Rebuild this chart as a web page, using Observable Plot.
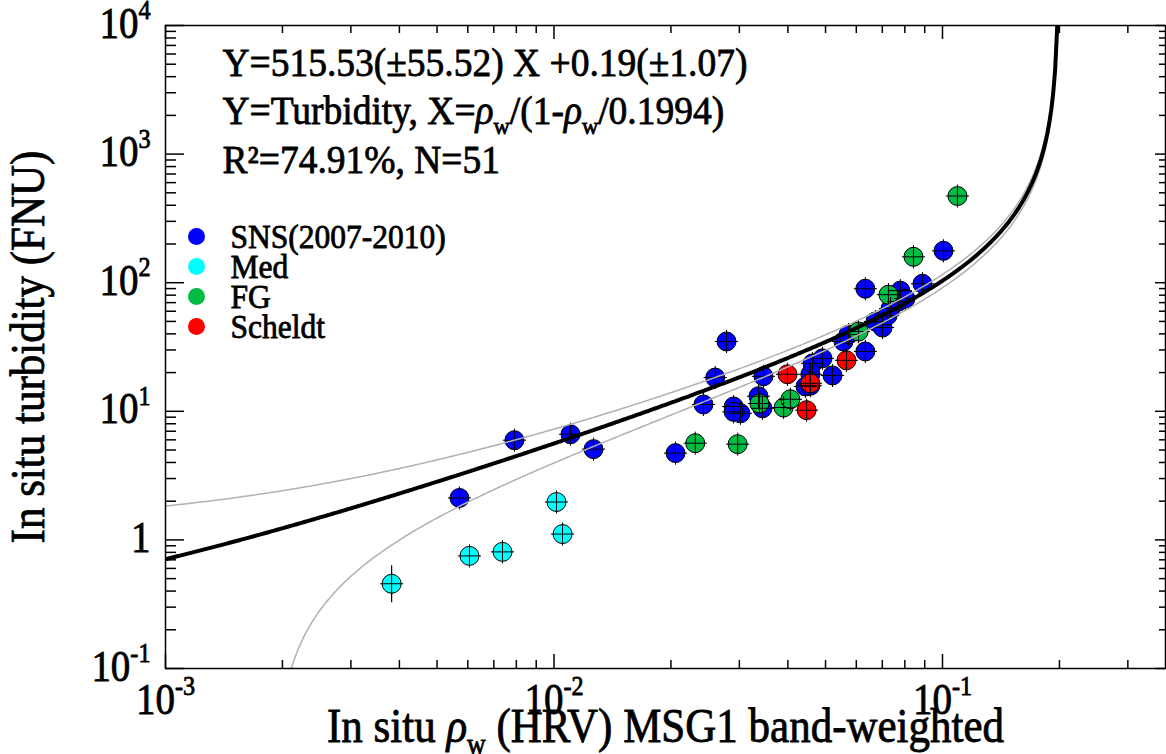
<!DOCTYPE html>
<html><head><meta charset="utf-8">
<script src="https://cdn.jsdelivr.net/npm/d3@7"></script>
<script src="https://cdn.jsdelivr.net/npm/@observablehq/plot@0.6"></script>
<style>
html,body{margin:0;padding:0;background:#fff;}
#chart svg text{stroke:#000;stroke-width:0.75px;stroke-linejoin:round;}
</style></head>
<body><div id="chart"></div>
<script>
// ---------------- data ----------------
const categories = ["SNS(2007-2010)", "Med", "FG", "Scheldt"];
const categoryColors = ["#0000ff", "#00ffff", "#00bb44", "#ff0000"];

const snsX = [5.71e-3, 7.91e-3, 1.103e-2, 1.264e-2, 2.055e-2, 2.425e-2, 2.60e-2, 2.78e-2, 2.90e-2, 3.02e-2, 2.90e-2,
  3.36e-2, 3.44e-2, 3.46e-2, 4.44e-2, 4.57e-2, 4.57e-2, 4.63e-2, 4.91e-2, 5.21e-2, 5.56e-2, 5.73e-2, 6.33e-2,
  6.33e-2, 6.72e-2, 7.01e-2, 7.22e-2, 7.35e-2, 7.70e-2, 7.79e-2, 8.03e-2, 8.88e-2, 0.1006];
const snsY = [2.12, 5.96, 6.63, 5.08, 4.73, 11.3, 18.3, 34.9, 10.9, 9.65, 9.9,
  13.1, 10.55, 18.7, 15.6, 15.8, 19.4, 23.6, 25.8, 19.0, 34.9, 39.5, 29.2,
  89.8, 49.9, 44.8, 55.5, 62.9, 71.3, 86.7, 75.2, 98.2, 177];

const medX = [3.82e-3, 6.06e-3, 7.37e-3, 1.015e-2, 1.052e-2];
const medY = [0.456, 0.751, 0.807, 1.97, 1.11];

const fgX = [2.31e-2, 2.97e-2, 3.38e-2, 3.90e-2, 4.06e-2, 6.08e-2, 7.26e-2, 8.42e-2, 0.1093];
const fgY = [5.65, 5.55, 11.5, 10.7, 12.4, 41.7, 80.7, 159, 472];

const scheldtX = [3.99e-2, 4.47e-2, 4.57e-2, 5.66e-2];
const scheldtY = [19.4, 10.2, 16.5, 24.9];

// large vertical error bar (Med, lowest point)
const errX = [3.82e-3];
const errYLow = [0.325];
const errYHigh = [0.63];

// fit: Y = a X + b, X = rho/(1 - rho/rhoInf)
const fitSlope = [515.53, 55.52];
const fitIntercept = [0.19, 1.07];
const rhoInf = 0.1994;
const fitR2 = "74.91%";
const fitN = 51;

const xDomain = [1e-3, 0.375];
const yDomain = [0.1, 1e4];
const xTickLabels = ["10^{-3}", "10^{-2}", "10^{-1}"];
const xTickValues = [1e-3, 1e-2, 1e-1];
const yTickLabels = ["10^{-1}", "1", "10^{1}", "10^{2}", "10^{3}", "10^{4}"];
const yTickValues = [0.1, 1, 10, 100, 1000, 10000];

const annotation = [
  "Y=515.53(±55.52) X +0.19(±1.07)",
  "Y=Turbidity, X=ρ_{w}/(1-ρ_{w}/0.1994)",
  "R²=" + fitR2 + ", N=" + fitN
];
const xLabel = "In situ ρ_{w} (HRV) MSG1 band-weighted";
const yLabel = "In situ turbidity (FNU)";

// ---------------- build ----------------
const groups = [
  {name: categories[0], xs: snsX, ys: snsY},
  {name: categories[1], xs: medX, ys: medY},
  {name: categories[2], xs: fgX, ys: fgY},
  {name: categories[3], xs: scheldtX, ys: scheldtY}
];
const points = groups.flatMap(g => g.xs.map((x, i) => ({cat: g.name, x, y: g.ys[i]})));
const errBars = errX.map((x, i) => ({x, y1: errYLow[i], y2: errYHigh[i]}));

// fit curves evaluated from the displayed coefficients
const rhoSamples = d3.ticks(Math.log10(xDomain[0]), Math.log10(0.19935), 600).map(v => 10 ** v).concat([0.1970, 0.1975, 0.1980, 0.1985, 0.1990]);
function curve(a, b) {
  return rhoSamples.map(r => ({x: r, y: a * (r / (1 - r / rhoInf)) + b})).filter(d => d.y > 0.01);
}
const fitMain = curve(fitSlope[0], fitIntercept[0]);
const fitUpper = curve(fitSlope[0] + fitSlope[1], fitIntercept[0] + fitIntercept[1]);
const fitLower = curve(fitSlope[0] - fitSlope[1], fitIntercept[0] - fitIntercept[1]);

const W = 1166, H = 754;
const mL = 165, mR = 1, mT = 25, mB = 86;
const plotW = W - mL - mR, plotH = H - mT - mB;

const isMajor = v => Math.abs(Math.log10(v) - Math.round(Math.log10(v))) < 1e-9;
const xAll = d3.scaleLog().domain(xDomain).ticks();
const yAll = d3.scaleLog().domain(yDomain).ticks();
const xMajor = xAll.filter(isMajor), xMinor = xAll.filter(v => !isMajor(v));
const yMajor = yAll.filter(isMajor), yMinor = yAll.filter(v => !isMajor(v));

const colorScale = {domain: categories, range: categoryColors};

const legendMarks = categories.flatMap((c, i) => [
  Plot.dot([c], {frameAnchor: "top-left", dx: 31, dy: 211 + i * 30, r: 8.5, fill: categoryColors[i], stroke: "none"}),
  Plot.text([c], {frameAnchor: "top-left", dx: 65, dy: 222 + i * 30, text: d => d, textAnchor: "start", lineAnchor: "bottom", fontSize: 31.5})
]);

const chart = Plot.plot({
  width: W, height: H,
  marginLeft: mL, marginRight: mR, marginTop: mT, marginBottom: mB,
  style: {fontFamily: "'Liberation Serif', 'Times New Roman', serif", background: "#fff", color: "#000", overflow: "visible"},
  x: {type: "log", domain: xDomain, axis: null},
  y: {type: "log", domain: yDomain, axis: null},
  color: colorScale,
  marks: [
    // data points
    Plot.ruleX(errBars, {x: "x", y1: "y1", y2: "y2", stroke: "#000", strokeWidth: 1.2}),
    Plot.dot(points, {x: "x", y: "y", fill: "cat", stroke: "#000", strokeWidth: 1, r: 9.5}),
    Plot.dot(points, {x: "x", y: "y", symbol: "plus", stroke: "#000", strokeWidth: 1, r: 7.5}),
    // fit lines
    Plot.line(fitUpper, {x: "x", y: "y", stroke: "#b0b0b0", strokeWidth: 1.5, clip: true}),
    Plot.line(fitLower, {x: "x", y: "y", stroke: "#b0b0b0", strokeWidth: 1.5, clip: true}),
    Plot.line(fitMain, {x: "x", y: "y", stroke: "#000", strokeWidth: 4, clip: true}),
    // ticks pointing inward on all four sides
    Plot.tickY(yMajor, {y: d => d, insetRight: plotW - 19, stroke: "#000", strokeWidth: 1.5}),
    Plot.tickY(yMinor, {y: d => d, insetRight: plotW - 11, stroke: "#000", strokeWidth: 1.5}),
    Plot.tickY(yMajor, {y: d => d, insetLeft: plotW - 10, stroke: "#000", strokeWidth: 1.5}),
    Plot.tickY(yMinor, {y: d => d, insetLeft: plotW - 6, stroke: "#000", strokeWidth: 1.5}),
    Plot.tickX(xMajor, {x: d => d, insetTop: plotH - 14, stroke: "#000", strokeWidth: 1.5}),
    Plot.tickX(xMinor, {x: d => d, insetTop: plotH - 8, stroke: "#000", strokeWidth: 1.5}),
    Plot.tickX(xMajor, {x: d => d, insetBottom: plotH - 14, stroke: "#000", strokeWidth: 1.5}),
    Plot.tickX(xMinor, {x: d => d, insetBottom: plotH - 8, stroke: "#000", strokeWidth: 1.5}),
    Plot.frame({stroke: "#000", strokeWidth: 1.5}),
    // tick labels
    Plot.text(xTickValues, {x: d => d, frameAnchor: "bottom", dy: 45, text: (d, i) => xTickLabels[i], textAnchor: "middle", lineAnchor: "bottom", fontSize: 39}),
    Plot.text(yTickValues, {y: d => d, frameAnchor: "left", dx: -15, dy: 12, text: (d, i) => yTickLabels[i], textAnchor: "end", lineAnchor: "bottom", fontSize: 39}),
    // axis labels
    Plot.text([xLabel], {frameAnchor: "bottom", dy: 73, text: d => d, textAnchor: "middle", lineAnchor: "bottom", fontSize: 43}),
    Plot.text([yLabel], {frameAnchor: "left", dx: -122, text: d => d, rotate: -90, textAnchor: "middle", lineAnchor: "bottom", fontSize: 43}),
    // annotation
    ...annotation.map((t, i) => Plot.text([t], {frameAnchor: "top-left", dx: 57, dy: 50 + i * 48.5, text: d => d, textAnchor: "start", lineAnchor: "bottom", fontSize: 37.5})),
    ...legendMarks
  ]
});
document.getElementById("chart").appendChild(chart);

// rich text: ^{sup}, _{sub}, italic rho
function richify(node) {
  const s = node.textContent;
  if (!/[\^_]\{|ρ/.test(s)) return;
  const fs = parseFloat(getComputedStyle(node).fontSize);
  const parts = s.split(/(\^\{[^}]*\}|_\{[^}]*\}|ρ)/).filter(p => p !== "");
  while (node.firstChild) node.removeChild(node.firstChild);
  let shift = 0;
  for (const p of parts) {
    const t = document.createElementNS("http://www.w3.org/2000/svg", "tspan");
    let txt = p, newShift = 0;
    if (p.startsWith("^{")) { txt = p.slice(2, -1); newShift = -0.42 * fs; t.setAttribute("font-size", 0.62 * fs); }
    else if (p.startsWith("_{")) { txt = p.slice(2, -1); newShift = 0.25 * fs; t.setAttribute("font-size", 0.6 * fs); }
    else if (p === "ρ") { t.setAttribute("font-style", "italic"); }
    const dy = newShift - shift;
    if (dy) t.setAttribute("dy", dy);
    shift = newShift;
    t.textContent = txt;
    node.appendChild(t);
  }
}
chart.querySelectorAll("text").forEach(richify);

// the reference serif face is a little taller than Liberation Serif: stretch glyph height about the baseline
chart.querySelectorAll("text").forEach(node => {
  const fs = parseFloat(getComputedStyle(node).fontSize);
  const k = fs >= 39 ? 1.12 : 1.05;
  const tr = node.getAttribute("transform");
  if (tr) node.setAttribute("transform", tr + ` scale(1,${k})`);
});
</script>
</body></html>
